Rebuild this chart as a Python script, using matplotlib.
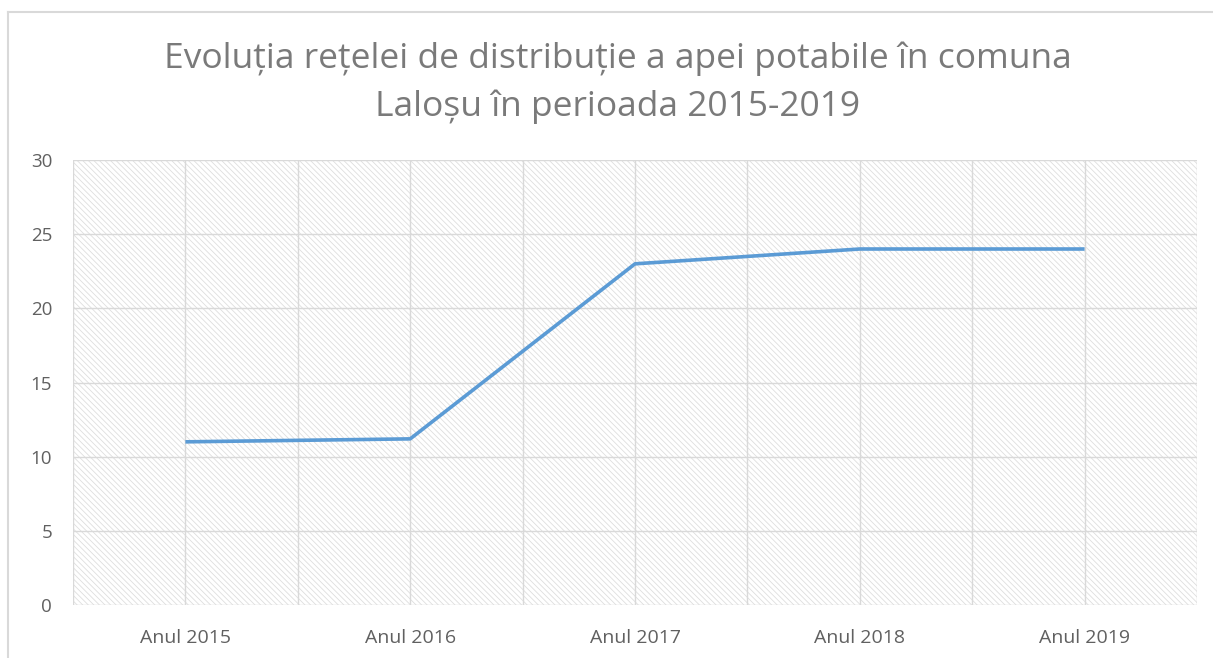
import numpy as np
import matplotlib.pyplot as plt
from matplotlib.patches import Rectangle
from matplotlib.lines import Line2D

# data
categories = ["Anul 2015", "Anul 2016", "Anul 2017", "Anul 2018", "Anul 2019"]
values = [11.0, 11.2, 23.0, 24.0, 24.0]
y_ticks = [0, 5, 10, 15, 20, 25, 30]
title_lines = ["Evoluția rețelei de distribuție a apei potabile în comuna",
               "Laloșu în perioada 2015-2019"]

W, H = 1213, 658
plt.rcParams['font.family'] = ['Open Sans', 'DejaVu Sans']
plt.rcParams['hatch.linewidth'] = 0.6

fig = plt.figure(figsize=(W / 100, H / 100), dpi=100)
ax = fig.add_axes([73 / W, 1 - 605 / H, (1197 - 73) / W, (605 - 160) / H])

grid_col = '#d9d9d9'
x = np.arange(len(categories))

# hatched plot background
bg = Rectangle((0, 0), 1, 1, transform=ax.transAxes, facecolor='white',
               edgecolor='#dedede', hatch='\\' * 6, linewidth=0, zorder=0)
ax.add_patch(bg)

ax.set_xlim(-0.5, len(categories) - 0.5)
ax.set_ylim(0, 30)

# grid lines
for gx in np.arange(-0.5, len(categories), 0.5):
    ax.axvline(gx, color=grid_col, lw=1.0, zorder=1)
for gy in y_ticks:
    ax.axhline(gy, color=grid_col, lw=1.0, zorder=1)

ax.plot(x, values, color='#5B9BD5', lw=2.6, solid_capstyle='butt', zorder=3)

for s in ax.spines.values():
    s.set_visible(False)

ax.set_xticks(x)
ax.set_xticklabels(categories, fontsize=14, color='#606060')
ax.set_yticks(y_ticks)
ax.set_yticklabels([str(v) for v in y_ticks], fontsize=13.5, color='#606060')
ax.tick_params(axis='both', length=0)
ax.tick_params(axis='x', pad=17)
ax.tick_params(axis='y', pad=15)

for i, line in enumerate(title_lines):
    fig.text(618 / W, 1 - (68 + 48 * i) / H, line, ha='center', va='baseline',
             fontsize=25.5, color='#7a7a7a')

# outer chart border
fig.add_artist(Line2D([8 / W, 8 / W], [0, 1 - 12 / H], transform=fig.transFigure,
                      color=grid_col, lw=1.5))
fig.add_artist(Line2D([8 / W, 1], [1 - 12 / H, 1 - 12 / H], transform=fig.transFigure,
                      color=grid_col, lw=1.5))

fig.savefig('out.png', dpi=100)
